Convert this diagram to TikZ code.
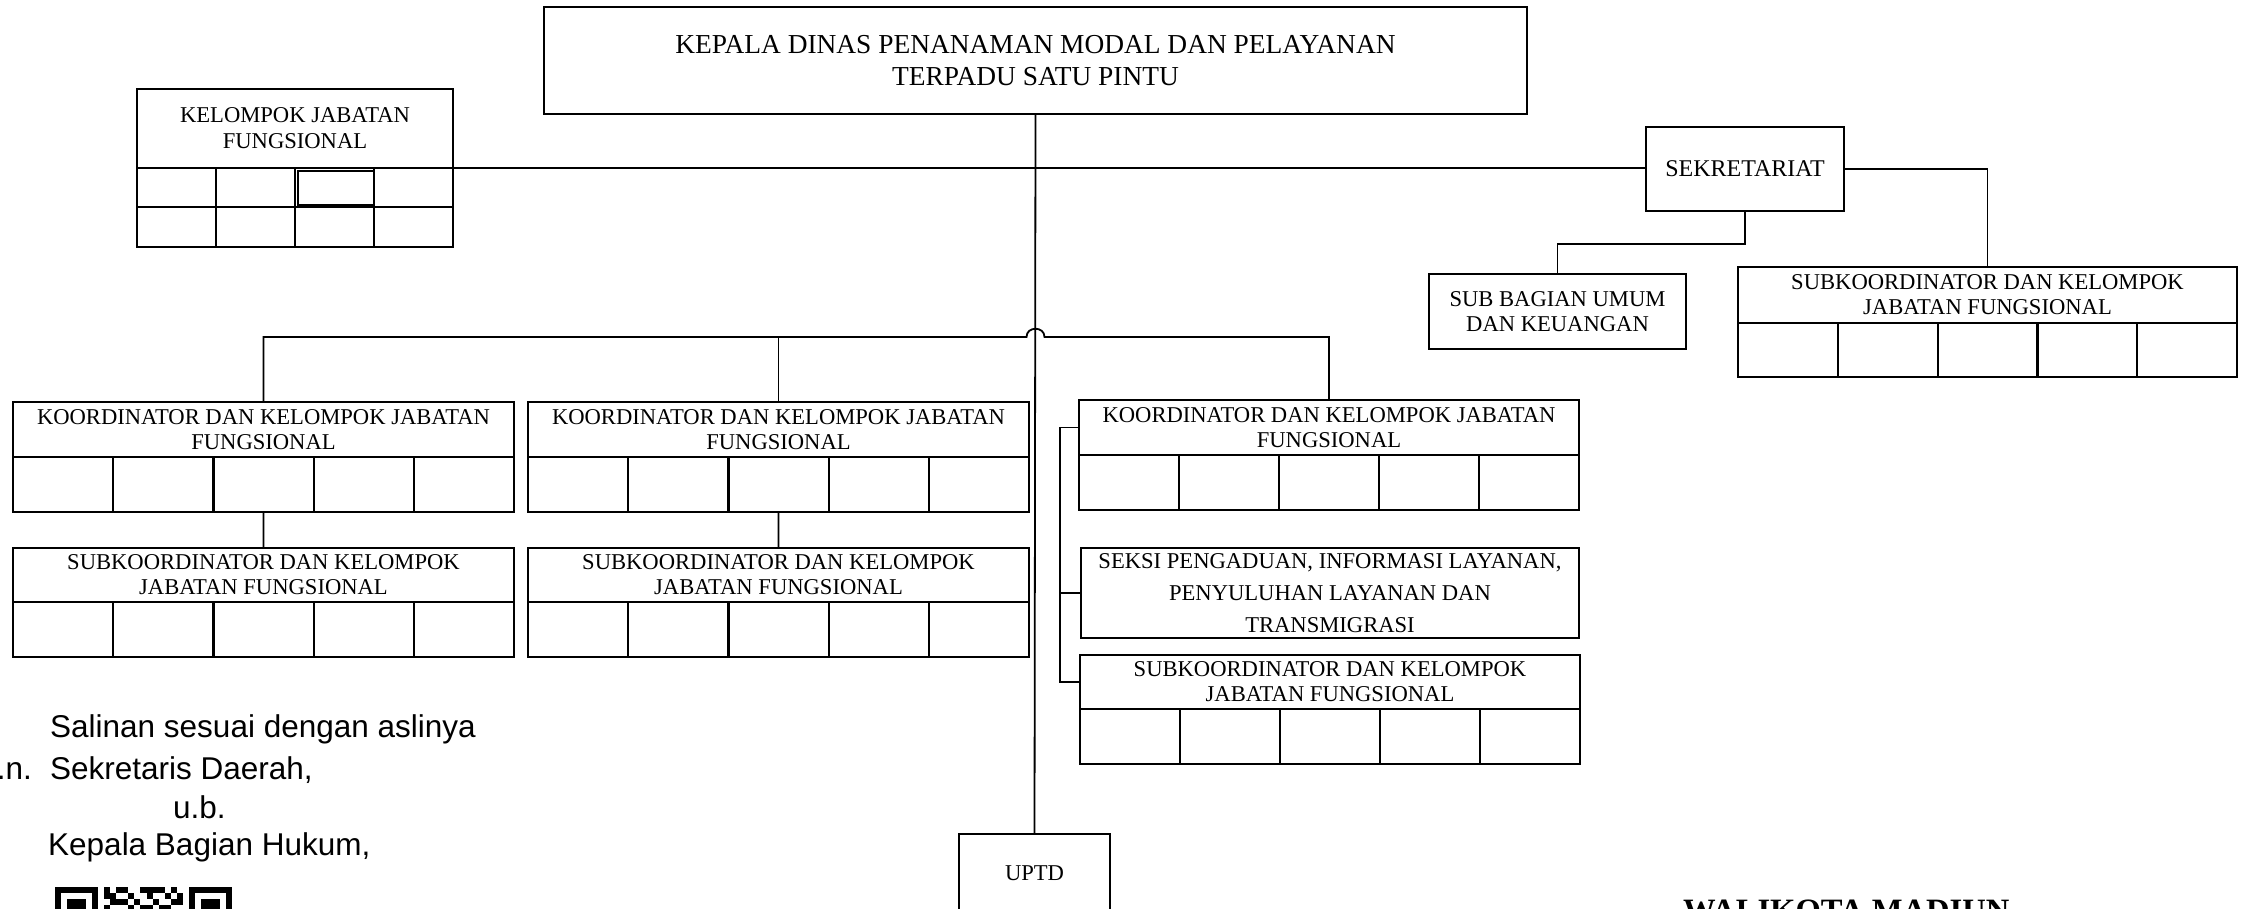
\documentclass[tikz,border=0pt]{standalone}
\usepackage{fontspec}
\setmainfont{Liberation Serif}
\newfontfamily\arialf{Liberation Sans}
\newcommand\cellrow[6]{\foreach \i in {1,...,#6}{\node[cell, minimum width={#4/#6}, minimum height=#5, anchor=north west] (#1c\i) at ({#2+(\i-1)*#4/#6},#3) {};}}
\tikzset{
  box/.style={draw, line width=2.2pt, inner sep=0pt, outer sep=0pt, align=center, anchor=north west, font=\fontsize{22.6}{25}\selectfont},
  cell/.style={draw, line width=2.2pt, inner sep=0pt, outer sep=0pt},
  conn/.style={draw, line width=1.8pt},
  note/.style={inner sep=0pt, anchor=base west, font=\arialf\fontsize{31.5}{36}\selectfont}
}
\begin{document}
\begin{tikzpicture}[x=1pt,y=-1pt]
\useasboundingbox (0,0) rectangle (2242,908);
\clip (0,0) rectangle (2242,908);
\fill[white] (0,0) rectangle (2242,908);

% head
\node[box, minimum width=983, minimum height=107, font=\fontsize{27.4}{32}\selectfont] (kepala) at (544,7) {KEPALA DINAS PENANAMAN MODAL DAN PELAYANAN\\TERPADU SATU PINTU};

% kelompok jabatan fungsional
\node[box, minimum width=316, minimum height=79, font=\fontsize{22.6}{26}\selectfont] (kjf) at (137,89) {KELOMPOK JABATAN\\FUNGSIONAL};
\cellrow{kjfa}{137}{168}{316}{39}{4}
\cellrow{kjfb}{137}{207}{316}{40}{4}
\draw[line width=1.6pt] (298,171) rectangle (374,205);

% sekretariat
\node[box, minimum width=198, minimum height=84, font=\fontsize{24}{28}\selectfont] (sek) at (1646,127) {SEKRETARIAT};
\node[box, minimum width=257, minimum height=75] (sbu) at (1429,274) {SUB BAGIAN UMUM\\DAN KEUANGAN};
\node[box, minimum width=499, minimum height=56] (subr) at (1738,267) {SUBKOORDINATOR DAN KELOMPOK\\JABATAN FUNGSIONAL};
\cellrow{subr}{1738}{323}{499}{54}{5}

% koordinator columns
\node[box, minimum width=501, minimum height=55] (k1) at (13,402) {KOORDINATOR DAN KELOMPOK JABATAN\\FUNGSIONAL};
\cellrow{k1}{13}{457}{501}{55}{5}
\node[box, minimum width=501, minimum height=55] (k2) at (528,402) {KOORDINATOR DAN KELOMPOK JABATAN\\FUNGSIONAL};
\cellrow{k2}{528}{457}{501}{55}{5}
\node[box, minimum width=501, minimum height=54] (s1) at (13,548) {SUBKOORDINATOR DAN KELOMPOK\\JABATAN FUNGSIONAL};
\cellrow{s1}{13}{602}{501}{55}{5}
\node[box, minimum width=501, minimum height=54] (s2) at (528,548) {SUBKOORDINATOR DAN KELOMPOK\\JABATAN FUNGSIONAL};
\cellrow{s2}{528}{602}{501}{55}{5}

\node[box, minimum width=500, minimum height=55] (k3) at (1079,400) {KOORDINATOR DAN KELOMPOK JABATAN\\FUNGSIONAL};
\cellrow{k3}{1079}{455}{500}{55}{5}
\node[box, minimum width=498, minimum height=90, font=\fontsize{22.6}{32}\selectfont] (seksi) at (1081,548) {SEKSI PENGADUAN, INFORMASI LAYANAN,\\PENYULUHAN LAYANAN DAN\\TRANSMIGRASI};
\node[box, minimum width=500, minimum height=54] (s3) at (1080,655) {SUBKOORDINATOR DAN KELOMPOK\\JABATAN FUNGSIONAL};
\cellrow{s3}{1080}{709}{500}{55}{5}

% uptd
\node[box, minimum width=151, minimum height=79] (uptd) at (959,834) {UPTD};

% connectors
\coordinate (bus) at (0,337);
\coordinate (sekmid) at (0,244);
\coordinate (brk) at (1060,0);
\draw[conn] (kepala.south) -- (uptd.north);
\draw[conn] (kjf.south east) -- (kjf.south east -| sek.west);
\draw[conn] (sek.east) -| (subr.north);
\draw[conn] (sek.south) -- (sek.south |- sekmid) -| (sbu.north);
\draw[conn] (k1.north) -- (k1.north |- bus) -- (1026.5,337) .. controls (1026.5,326) and (1044.5,326) .. (1044.5,337) -- (k3.north |- bus) -- (k3.north);
\draw[conn] (k2.north) -- (k2.north |- bus);
\draw[conn] (k1c3.south) -- (s1.north);
\draw[conn] (k2c3.south) -- (s2.north);
\draw[conn] (k3.west) -- (k3.west -| brk) -- (s3.west -| brk) -- (s3.west);
\draw[conn] (seksi.west) -- (seksi.west -| brk);

% note text
\node[note] (t1) at (50,737) {Salinan sesuai dengan aslinya};
\node[note, anchor=base east] (t2a) at (32,779) {a.n.};
\node[note] (t2) at (50,779) {Sekretaris Daerah,};
\node[note] (t3) at (173,818) {u.b.};
\node[note] (t4) at (48,855) {Kepala Bagian Hukum,};

% QR code (top part)
\fill (55,887) rectangle (97.7,929.7);
\fill[white] (61.1,893.1) rectangle (91.6,923.6);
\fill (67.2,899.2) rectangle (85.5,917.5);
\fill (189.2,887) rectangle (231.9,929.7);
\fill[white] (195.3,893.1) rectangle (225.8,923.6);
\fill (201.4,899.2) rectangle (219.7,917.5);
\foreach \c/\r in {8/0,10/0,11/0,14/0,15/0,16/0,17/0,19/0,8/1,9/1,12/1,15/1,18/1,20/1,9/2,10/2,11/2,13/2,16/2,19/2,20/2,8/3,12/3,14/3,15/3,17/3,18/3}
  \fill ({55+\c*6.1},{887+\r*6.1}) rectangle ++(6.1,6.1);

% signature
\node[inner sep=0pt, anchor=base west, font=\bfseries\fontsize{32.6}{36}\selectfont] (wali) at (1683,921) {WALIKOTA MADIUN};
\end{tikzpicture}
\end{document}
